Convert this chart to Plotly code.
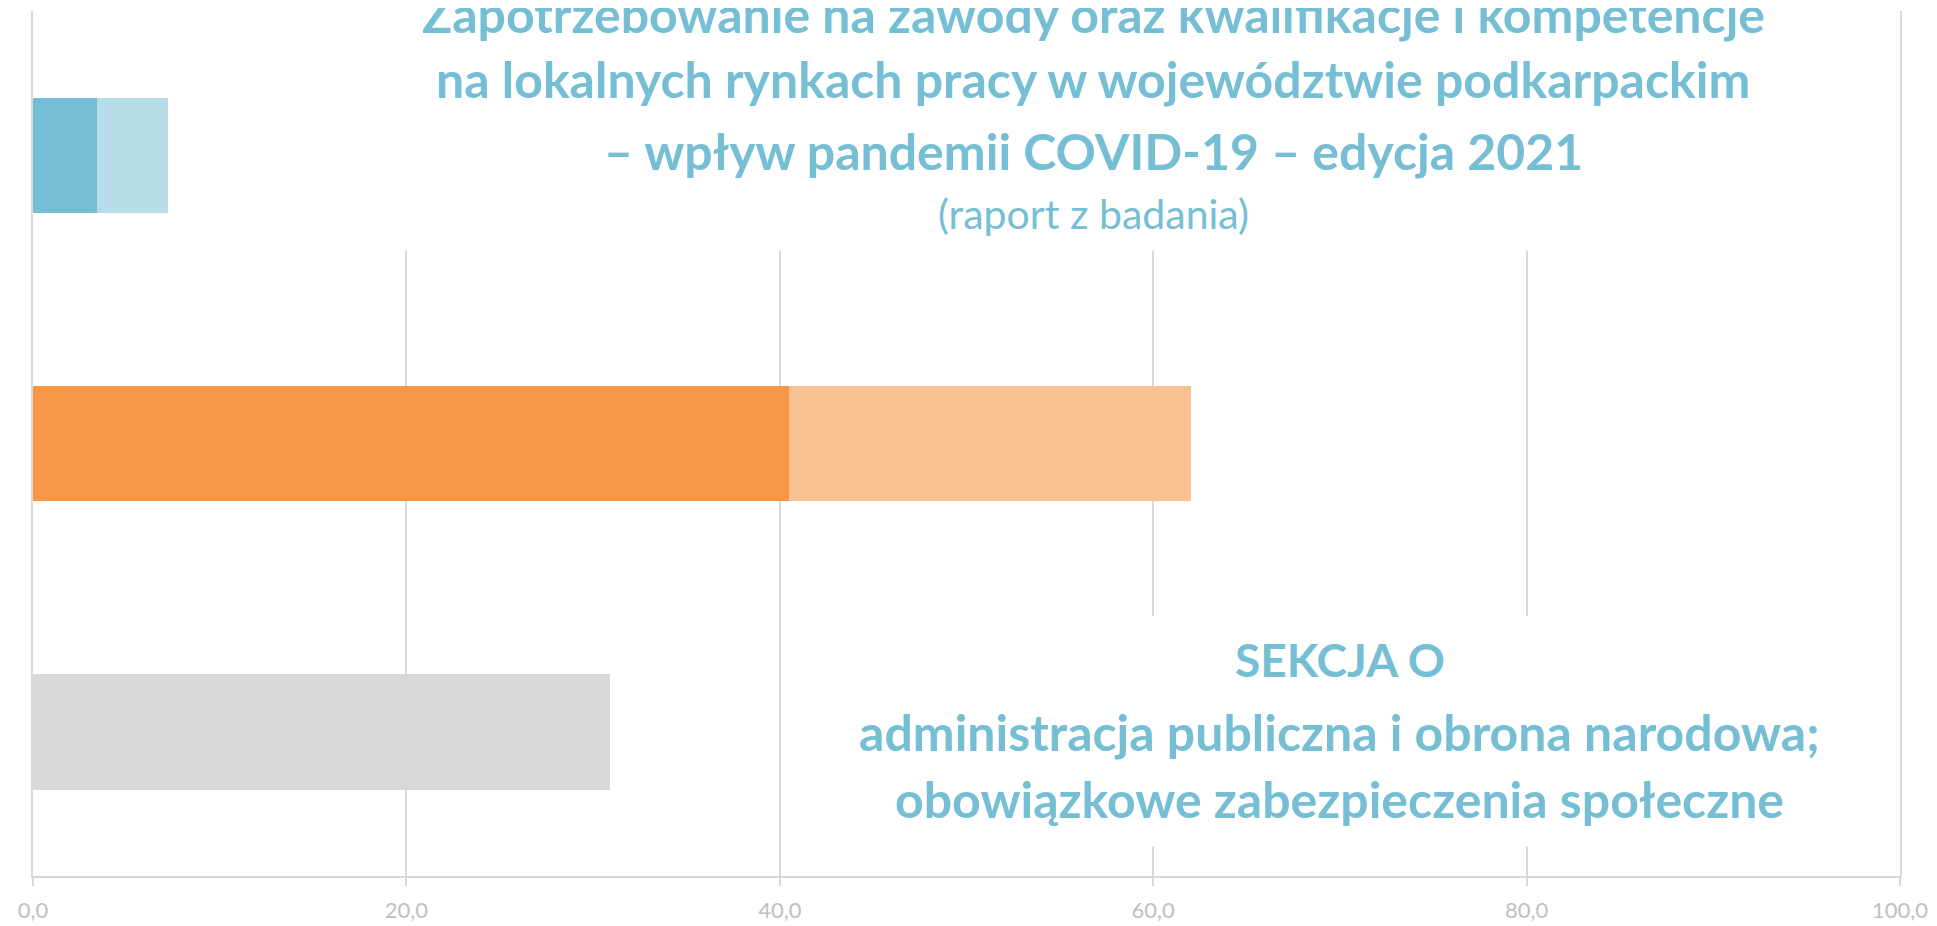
import plotly.graph_objects as go

# categories listed top to bottom
categories = ["A", "B", "C"]
share_main = [3.45, 40.5, 30.9]
share_extra = [3.8, 21.5, 0.0]
colors_main = ["#75bdd3", "#f79646", "#d9d9d9"]
colors_extra = ["#b7dde8", "#f9c191", "#d9d9d9"]
tick_values = [0, 20, 40, 60, 80, 100]

title_lines = [
    "Zapotrzebowanie na zawody oraz kwalifikacje i kompetencje",
    "na lokalnych rynkach pracy w województwie podkarpackim",
    "– wpływ pandemii COVID-19 – edycja 2021",
]
subtitle = "(raport z badania)"
section_lines = [
    "SEKCJA O",
    "administracja publiczna i obrona narodowa;",
    "obowiązkowe zabezpieczenia społeczne",
]

TEXT_COLOR = "#75bed4"
GRID = "#d9d9d9"
FONT = "Lato"

# the page body adds an 8px offset, so the figure is 8px smaller
OFF = 8
W, H = 1937 - OFF, 926 - OFF
M_T, M_B = 11 - OFF, 41
plot_h = H - M_T - M_B


def py(px_from_top):
    # pixel row on the screenshot -> paper y
    return (H - M_B - (px_from_top - OFF)) / plot_h


fig = go.Figure()
fig.add_trace(go.Bar(y=categories, x=share_main, orientation="h",
                     marker=dict(color=colors_main, line_width=0),
                     hoverinfo="x"))
fig.add_trace(go.Bar(y=categories, x=share_extra, orientation="h",
                     marker=dict(color=colors_extra, line_width=0),
                     hoverinfo="x"))

# white panels hiding the gridlines behind the texts
fig.add_shape(type="rect", xref="x", yref="paper", x0=12, x1=95,
              y0=py(253), y1=1.05, fillcolor="white", line_width=0,
              layer="above")
fig.add_shape(type="rect", xref="x", yref="paper", x0=42, x1=95,
              y0=py(855), y1=py(622), fillcolor="white", line_width=0,
              layer="above")

for txt, yc in zip(title_lines, [14, 80, 152]):
    fig.add_annotation(text=txt, x=56.8, xref="x", y=py(yc), yref="paper",
                       showarrow=False, yanchor="middle",
                       font=dict(family=FONT, size=50, color=TEXT_COLOR,
                                 weight="bold"))
fig.add_annotation(text=subtitle, x=56.8, xref="x", y=py(216), yref="paper",
                   showarrow=False, yanchor="middle",
                   font=dict(family=FONT, size=41, color=TEXT_COLOR))

for txt, yc, size in zip(section_lines, [666, 740, 807], [46, 50, 50]):
    fig.add_annotation(text=txt, x=70, xref="x", y=py(yc), yref="paper",
                       showarrow=False, yanchor="middle",
                       font=dict(family=FONT, size=size, color=TEXT_COLOR,
                                 weight="bold"))

fig.update_layout(
    width=W, height=H,
    margin=dict(l=33 - OFF, r=37, t=M_T, b=M_B),
    barmode="stack", bargap=0.6,
    plot_bgcolor="white", paper_bgcolor="white",
    showlegend=False,
    separators=", ",
    font=dict(family=FONT),
)
fig.update_xaxes(
    range=[0, 100], tickvals=tick_values, tickformat=".1f",
    showgrid=True, gridcolor=GRID, gridwidth=1.5,
    zeroline=False,
    showline=True, linecolor=GRID, linewidth=2,
    ticks="outside", ticklen=8, tickcolor=GRID, tickwidth=1.5,
    ticklabelstandoff=6,
    tickfont=dict(family=FONT, size=22, color="#bfbfbf"),
)
# side lines stand in for the gridlines at 0 and 100
fig.update_yaxes(
    autorange="reversed", showticklabels=False, showgrid=False,
    zeroline=False, showline=True, mirror=True, linecolor=GRID,
    linewidth=1.5, layer="below traces",
)

fig.write_html("out.html")
